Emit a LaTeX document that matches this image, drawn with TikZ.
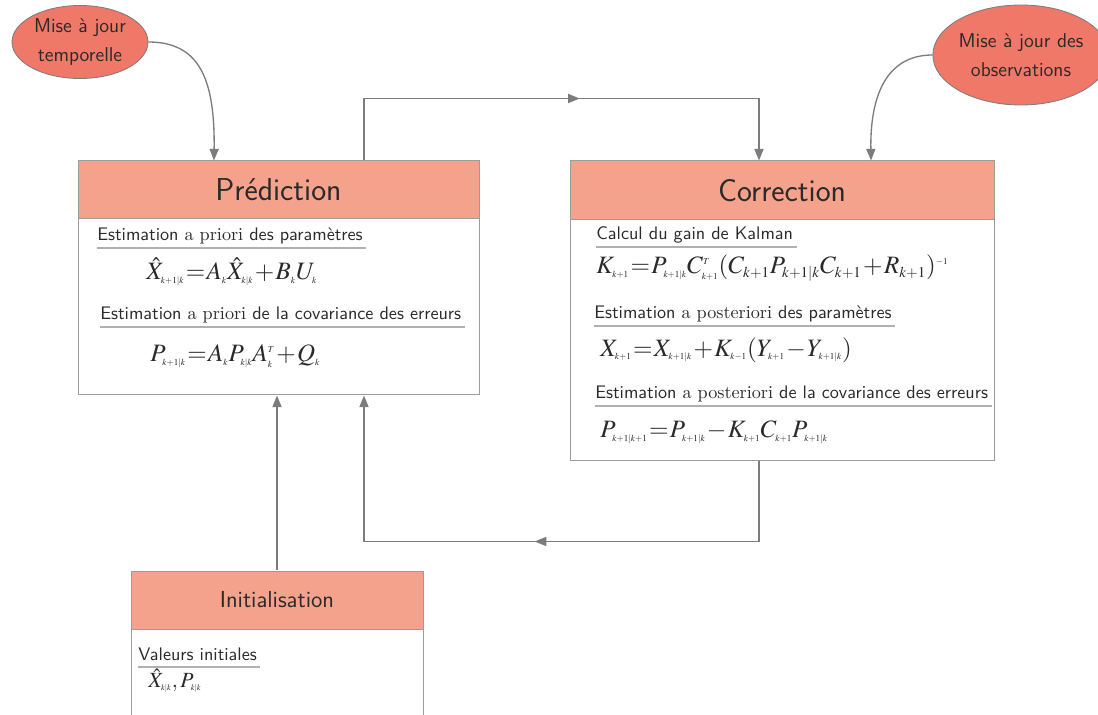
\documentclass[tikz,border=0pt]{standalone}
\usepackage{mathptmx}
\renewcommand{\rmdefault}{lmr}
\usetikzlibrary{arrows.meta,shapes.geometric,decorations.markings}

\DeclareMathSizes{15}{15}{9}{5.5}
\DeclareMathSizes{13}{13}{8}{5}

\definecolor{entete}{HTML}{F4A28C}
\definecolor{bulle}{HTML}{F07868}
\definecolor{trait}{HTML}{7C7C7C}
\definecolor{bord}{HTML}{9C9C9C}
\definecolor{texte}{HTML}{2A2A2A}

% indices en tout petit
\newcommand{\idx}[1]{{\scriptscriptstyle #1}}

\tikzset{
  titrebox/.style={draw=bord, line width=0.6pt, fill=entete, inner sep=0pt,
    text=texte, font=\sffamily\fontsize{19}{22}\selectfont},
  corpsbox/.style={draw=bord, line width=0.6pt, fill=white, inner sep=0pt},
  bulle/.style={ellipse, draw=trait, line width=0.5pt, fill=bulle, inner sep=0pt,
    align=center, text=texte, font=\sffamily\fontsize{12}{17}\selectfont},
  soustitre/.style={anchor=base west, inner sep=0pt, text=texte,
    font=\sffamily\fontsize{10.9}{12}\selectfont},
  formule/.style={anchor=west, inner sep=0pt, text=texte,
    font=\fontsize{15}{18}\selectfont,
    execute at begin node={\thickmuskip=1mu\medmuskip=1mu}},
  souligne/.style={draw=bord!80, line width=0.7pt},
  fleche/.style={draw=trait, line width=0.8pt, -{Triangle[length=7pt,width=5.5pt]}},
  milieu/.style={postaction={decorate}, decoration={markings,
    mark=at position #1 with {\arrow{Triangle[length=7pt,width=5.5pt]}}}},
}

\begin{document}
\begin{tikzpicture}[x=0.6pt, y=-0.6pt]
  \useasboundingbox (0,0) rectangle (1098,715);

  % blocs
  \node[corpsbox, minimum width=401*0.6pt, minimum height=176*0.6pt] (predb) at (278.5,307) {};
  \node[titrebox, minimum width=401*0.6pt, minimum height=58*0.6pt] (predt) at (278.5,190) {Prédiction};
  \node[corpsbox, minimum width=424*0.6pt, minimum height=241*0.6pt] (corrb) at (782,340.5) {};
  \node[titrebox, minimum width=424*0.6pt, minimum height=59*0.6pt] (corrt) at (782,190.5) {Correction};
  \node[corpsbox, minimum width=292*0.6pt, minimum height=131*0.6pt] (initb) at (277,694.5) {};
  \node[titrebox, minimum width=292*0.6pt, minimum height=58*0.6pt,
    font=\sffamily\fontsize{13.9}{16}\selectfont] (initt) at (277,600) {Initialisation};

  % bulles
  \node[bulle, minimum width=136*0.6pt, minimum height=73*0.6pt] (majt) at (80,42) {Mise à jour\\temporelle};
  \node[bulle, minimum width=166*0.6pt, minimum height=100*0.6pt] (majo) at (1021,55) {Mise à jour des\\observations};

  % contenu prediction
  \node[soustitre] (e1) at (97,241) {Estimation {\rmfamily a priori} des paramètres};
  \node[formule] (f1) at (146,272) {$\hat{X}_{\idx{k+1|k}}=A_{\idx{k}}\hat{X}_{\idx{k|k}}+B_{\idx{k}}U_{\idx{k}}$};
  \node[soustitre] (e2) at (100,320) {Estimation {\rmfamily a priori} de la covariance des erreurs};
  \node[formule] (f2) at (150,356) {$P_{\idx{k+1|k}}=A_{\idx{k}}P_{\idx{k|k}}A^{\idx{T}}_{\idx{k}}+Q_{\idx{k}}$};

  % contenu correction
  \node[soustitre] (e3) at (596,240) {Calcul du gain de Kalman};
  \node[formule] (f3) at (596,268) {$K_{\idx{k+1}}=P_{\idx{k+1|k}}C^{\idx{T}}_{\idx{k+1}}(C_{k+1}P_{k+1|k}C_{k+1}+R_{k+1})^{\idx{-1}}$};
  \node[soustitre] (e4) at (594,319) {Estimation {\rmfamily a posteriori} des paramètres};
  \node[formule] (f4) at (600,350) {$X_{\idx{k+1}}=X_{\idx{k+1|k}}+K_{\idx{k-1}}(Y_{\idx{k+1}}-Y_{\idx{k+1|k}})$};
  \node[soustitre] (e5) at (595,399) {Estimation {\rmfamily a posteriori} de la covariance des erreurs};
  \node[formule] (f5) at (600,432) {$P_{\idx{k+1|k+1}}=P_{\idx{k+1|k}}-K_{\idx{k+1}}C_{\idx{k+1}}P_{\idx{k+1|k}}$};

  % contenu initialisation
  \node[soustitre] (e6) at (138,660) {Valeurs initiales};
  \node[formule, font=\fontsize{13}{15}\selectfont] (f6) at (148,681) {$\hat{X}_{\idx{k|k}},P_{\idx{k|k}}$};

  \foreach \n in {e1,e2,e3,e4,e5,e6}
    \draw[souligne] ([yshift=-4.2pt]\n.base west) -- ([yshift=-4.2pt,xshift=2pt]\n.base east);

  % fleches
  \draw[fleche] (majt.east) .. controls (200,42) and (215,80) .. (predt.north -| 214,0);
  \draw[fleche] (majo.west) .. controls (890,55) and (870,90) .. (corrt.north -| 871,0);
  \draw[fleche, milieu=0.535] (predt.north -| 364,0) -- ++(0,-62) -| (corrt.north -| 759,0);
  \draw[fleche, milieu=0.49] (corrb.south -| 759,0) -- ++(0,80) -| (predb.south -| 364,0);
  \draw[fleche] (initt.north) -- (initt.north |- predb.south);
\end{tikzpicture}
\end{document}
